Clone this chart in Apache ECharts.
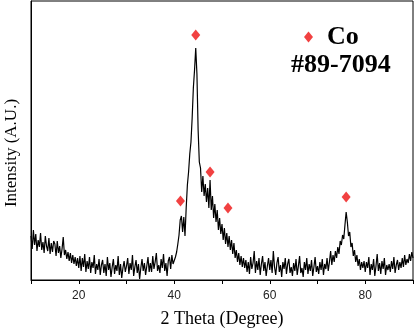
<!DOCTYPE html>
<html>
<head>
<meta charset="utf-8">
<script src="https://cdn.jsdelivr.net/npm/echarts@6/dist/echarts.min.js"></script>
<style>
  html, body { margin: 0; padding: 0; background: #fff; }
  #chart { width: 414px; height: 330px; }
</style>
</head>
<body>
<div id="chart"></div>
<script>
// XRD scan, 10-90 deg, step 0.25 deg (intensity in arbitrary units)
const scanStart = 10;
const scanStep = 0.25;
const intensity = [
  44, 31, 50, 35, 46, 29, 40, 33, 47, 30, 38, 27, 44, 34, 29, 42, 26, 37, 28, 39,   // 10
  36, 24, 39, 27, 34, 22, 31, 43, 25, 30, 21, 28, 19, 27, 17, 25, 16, 23, 14, 22,   // 15
  12, 24, 9, 22, 13, 26, 8, 19, 11, 23, 7, 18, 12, 25, 6, 16, 10, 21, 5, 15,        // 20
  20, 7, 16, 4, 23, 10, 17, 3, 13, 21, 6, 15, 9, 24, 5, 16, 2, 12, 19, 8,           // 25
  14, 22, 6, 17, 10, 25, 4, 13, 20, 7, 16, 1, 12, 21, 9, 17, 5, 14, 23, 8,          // 30
  17, 8, 24, 11, 18, 27, 9, 15, 7, 21, 12, 26, 9, 17, 4, 19, 23, 11, 25, 16,        // 35
  17, 23, 28, 36, 45, 60, 64, 48, 63, 44, 72, 95, 108, 126, 138, 162, 192, 210, 232, 206, // 40
  150, 118, 112, 88, 104, 84, 96, 78, 92, 72, 100, 70, 84, 62, 76, 58, 70, 50, 62, 46,   // 45
  56, 40, 52, 36, 47, 33, 44, 30, 40, 26, 37, 22, 30, 18, 27, 15, 24, 13, 22, 12,   // 50
  20, 8, 18, 6, 23, 11, 17, 29, 7, 19, 10, 22, 5, 16, 24, 9, 18, 4, 14, 22,         // 55
  10, 20, 7, 29, 13, 5, 17, 23, 8, 15, 3, 18, 11, 22, 6, 16, 21, 7, 13, 4,          // 60
  17, 9, 21, 5, 14, 24, 7, 12, 3, 18, 10, 22, 6, 16, 9, 20, 4, 13, 23, 8,           // 65
  14, 6, 18, 10, 21, 5, 16, 11, 22, 9, 18, 29, 15, 25, 18, 29, 22, 33, 26, 39,      // 70
  35, 45, 41, 55, 68, 58, 44, 48, 33, 37, 24, 30, 18, 25, 14, 21, 10, 18, 12, 19,   // 75
  8, 18, 12, 23, 5, 16, 10, 21, 4, 14, 26, 9, 17, 6, 19, 11, 22, 5, 15, 10,         // 80
  16, 8, 19, 11, 23, 7, 15, 20, 10, 18, 12, 22, 13, 25, 15, 21, 17, 26, 19, 28,     // 85
  22                                                                                // 90
];

// Co reference peaks (#89-7094) marked above the pattern
const coPeakTheta = [41.3, 44.5, 47.5, 51.25, 76.0];
const coPeakMark = [79, 245, 108, 72, 83];

const xTickLabels = [20, 40, 60, 80];

const SERIF = "'Liberation Serif', 'DejaVu Serif', serif";

const scan = intensity.map((v, i) => [scanStart + i * scanStep, v]);
const marks = coPeakTheta.map((t, i) => [t, coPeakMark[i]]);

const chart = echarts.init(document.getElementById("chart"));
chart.setOption({
  animation: false,
  backgroundColor: "#fff",
  grid: {
    left: 31, right: 1, top: 1, bottom: 50,
    outerBoundsMode: "none",
    containLabel: false,
    show: true, borderColor: "#000", borderWidth: 1,
  },
  legend: {
    data: ["Co"],
    left: 299, top: 19,
    itemWidth: 9, itemHeight: 11,
    textStyle: {
      fontFamily: SERIF, fontSize: 26, fontWeight: "bold", color: "#000",
      padding: [0, 0, 0, 9],
    },
  },
  title: {
    text: "#89-7094",
    left: 291, top: 52,
    padding: 0,
    textStyle: { fontFamily: SERIF, fontSize: 26, fontWeight: "bold", color: "#000" },
  },
  xAxis: {
    type: "value",
    min: 10, max: 90, interval: 10,
    name: "2 Theta (Degree)",
    nameLocation: "middle",
    nameGap: 30,
    nameTextStyle: { fontFamily: SERIF, fontSize: 18, color: "#000" },
    axisLine: { lineStyle: { color: "#000", width: 1 } },
    axisTick: { show: true, inside: false, length: 4, lineStyle: { color: "#000" } },
    axisLabel: {
      color: "#222", fontSize: 12, fontFamily: "'Liberation Sans', Arial, sans-serif", margin: 10,
      formatter: (v) => (xTickLabels.includes(v) ? String(v) : ""),
    },
    splitLine: { show: false },
  },
  yAxis: {
    type: "value",
    min: 0, max: 279,
    axisLine: { show: true, lineStyle: { color: "#000", width: 1 } },
    axisTick: { show: false },
    axisLabel: { show: false },
    splitLine: { show: false },
  },
  graphic: [{
    type: "text",
    x: 12, y: 153,
    rotation: Math.PI / 2,
    style: {
      text: "Intensity (A.U.)",
      font: "17px " + SERIF,
      fill: "#000",
      textAlign: "center",
      textVerticalAlign: "middle",
    },
  }],
  series: [
    {
      name: "scan",
      type: "line",
      data: scan,
      symbol: "none",
      lineStyle: { color: "#000", width: 1.2 },
      z: 2,
    },
    {
      name: "Co",
      type: "scatter",
      data: marks,
      symbol: "diamond",
      symbolSize: [9, 11],
      itemStyle: { color: "#ee1111" },
      z: 3,
    },
  ],
});
</script>
</body>
</html>
